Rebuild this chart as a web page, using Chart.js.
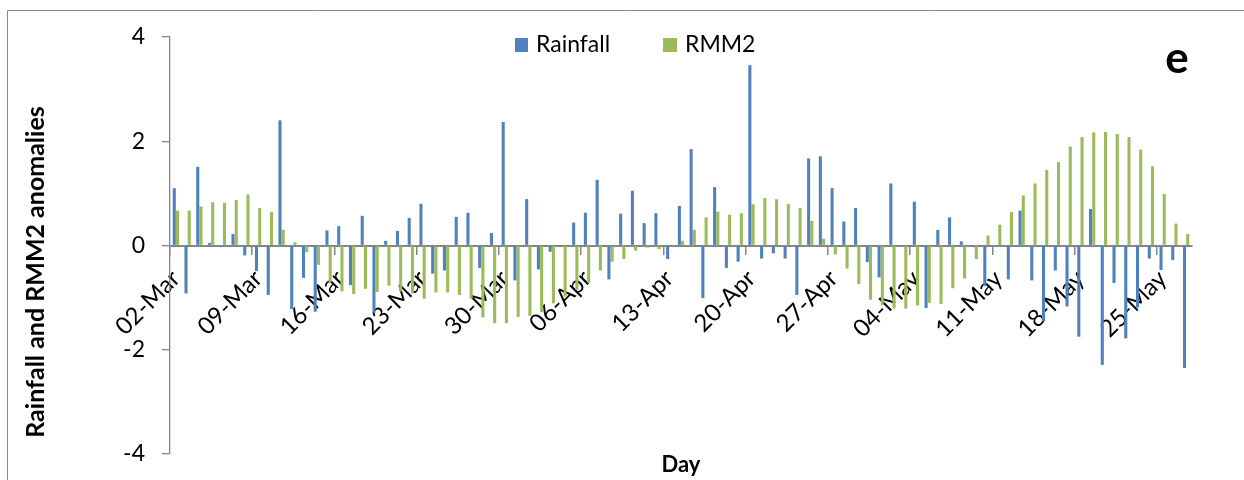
<!DOCTYPE html>
<html>
<head>
<meta charset="utf-8">
<script src="https://cdn.jsdelivr.net/npm/chart.js@4"></script>
<style>
  html, body { margin: 0; padding: 0; background: #fff; }
  #chart { display: block; }
</style>
</head>
<body>
<canvas id="chart" width="1244" height="480"></canvas>
<script>
// days, 02-Mar .. 27-May
const days = [
  '02-Mar','03-Mar','04-Mar','05-Mar','06-Mar','07-Mar','08-Mar','09-Mar','10-Mar','11-Mar',
  '12-Mar','13-Mar','14-Mar','15-Mar','16-Mar','17-Mar','18-Mar','19-Mar','20-Mar','21-Mar',
  '22-Mar','23-Mar','24-Mar','25-Mar','26-Mar','27-Mar','28-Mar','29-Mar','30-Mar','31-Mar',
  '01-Apr','02-Apr','03-Apr','04-Apr','05-Apr','06-Apr','07-Apr','08-Apr','09-Apr','10-Apr',
  '11-Apr','12-Apr','13-Apr','14-Apr','15-Apr','16-Apr','17-Apr','18-Apr','19-Apr','20-Apr',
  '21-Apr','22-Apr','23-Apr','24-Apr','25-Apr','26-Apr','27-Apr','28-Apr','29-Apr','30-Apr',
  '01-May','02-May','03-May','04-May','05-May','06-May','07-May','08-May','09-May','10-May',
  '11-May','12-May','13-May','14-May','15-May','16-May','17-May','18-May','19-May','20-May',
  '21-May','22-May','23-May','24-May','25-May','26-May','27-May'
];

const rainfall = [
  1.10, -0.92, 1.51, 0.05, -0.03, 0.22, -0.19, -0.49, -0.95, 2.40,
  -1.22, -0.62, -1.27, 0.29, 0.37, -0.76, 0.57, -1.29, 0.09, 0.28,
  0.53, 0.80, -0.54, -0.48, 0.55, 0.63, -0.43, 0.24, 2.37, -0.67,
  0.89, -0.46, -0.12, 0.00, 0.44, 0.63, 1.26, -0.65, 0.61, 1.05,
  0.43, 0.62, -0.26, 0.76, 1.85, -1.01, 1.12, -0.43, -0.31, 3.46,
  -0.25, -0.15, -0.25, -0.95, 1.67, 1.71, 1.10, 0.46, 0.72, -0.32,
  -0.61, 1.19, 0.00, 0.84, -1.20, 0.30, 0.54, 0.08, -0.03, -0.78,
  0.00, -0.65, 0.67, -0.67, -1.45, -0.48, -1.17, -1.75, 0.70, -2.29,
  -0.72, -1.78, -1.19, -0.25, -0.47, -0.28, -2.35
];

const rmm2 = [
  0.67, 0.67, 0.75, 0.83, 0.82, 0.87, 0.98, 0.72, 0.64, 0.30,
  0.06, -0.13, -0.37, -0.70, -0.88, -0.93, -0.83, -0.89, -0.77, -0.88,
  -0.92, -1.02, -0.90, -0.90, -0.95, -1.02, -1.38, -1.49, -1.49, -1.37,
  -1.35, -1.28, -1.11, -0.98, -0.85, -0.72, -0.48, -0.31, -0.26, -0.10,
  -0.04, -0.07, 0.01, 0.09, 0.30, 0.54, 0.65, 0.59, 0.62, 0.79,
  0.91, 0.89, 0.80, 0.72, 0.47, 0.13, -0.17, -0.44, -0.74, -1.04,
  -1.14, -1.21, -1.21, -1.15, -1.10, -1.12, -0.82, -0.63, -0.26, 0.19,
  0.40, 0.64, 0.96, 1.19, 1.45, 1.60, 1.90, 2.08, 2.17, 2.18,
  2.14, 2.08, 1.84, 1.52, 0.99, 0.42, 0.22
];

const yTicks = [-4, -2, 0, 2, 4];
const labelEvery = 7;

const BLUE = '#4F81BD', GREEN = '#9BBB59', AXIS = '#868686';
const FONT = 'Lato, "Open Sans", sans-serif';

// titles, panel letter, legend and the thin frame
const extras = {
  id: 'extras',
  beforeDraw(chart){
    const c = chart.ctx;
    c.save();
    c.strokeStyle = '#8a8a8a'; c.lineWidth = 1;
    c.beginPath(); c.moveTo(7.5, 480); c.lineTo(7.5, 10.5); c.lineTo(1244, 10.5); c.stroke();
    c.restore();
  },
  afterDraw(chart){
    const c = chart.ctx;
    c.save();
    c.fillStyle = '#000';
    // y title
    c.font = 'bold 25px ' + FONT;
    c.textAlign = 'center'; c.textBaseline = 'middle';
    c.translate(36, 272); c.rotate(-Math.PI/2);
    c.fillText('Rainfall and RMM2 anomalies', 0, 0);
    c.setTransform(1,0,0,1,0,0);
    // x title
    c.font = 'bold 22px ' + FONT;
    c.fillText('Day', (chart.chartArea.left + chart.chartArea.right)/2, 465);
    // panel letter
    c.font = 'bold 44px ' + FONT;
    c.textBaseline = 'alphabetic';
    c.fillText('e', 1177, 73);
    // legend
    const items = [{x: 515, w: 13}, {x: 663, w: 14}];
    c.font = '23px ' + FONT;
    c.textAlign = 'left'; c.textBaseline = 'middle';
    chart.data.datasets.forEach((ds, i)=>{
      c.fillStyle = ds.backgroundColor;
      c.fillRect(items[i].x, 38, items[i].w, 14);
      c.fillStyle = '#000';
      c.fillText(ds.label, items[i].x + items[i].w + 8, 45);
    });
    c.restore();
  }
};

new Chart(document.getElementById('chart'), {
  type: 'bar',
  data: {
    labels: days,
    datasets: [
      { label: 'Rainfall', data: rainfall, backgroundColor: BLUE, borderWidth: 0 },
      { label: 'RMM2', data: rmm2, backgroundColor: GREEN, borderWidth: 0 }
    ]
  },
  options: {
    responsive: false,
    animation: false,
    events: [],
    categoryPercentage: 0.55,
    barPercentage: 0.95,
    layout: { padding: { left: 0, right: 52, top: 37, bottom: 26 } },
    plugins: { legend: { display: false }, tooltip: { enabled: false } },
    scales: {
      x: {
        type: 'category',
        position: { y: 0 },
        offset: true,
        grid: {
          offset: true,
          drawOnChartArea: false,
          tickLength: 8,
          lineWidth: 1.5,
          color: ctx => (ctx.index % labelEvery === 0 ? AXIS : 'rgba(0,0,0,0)')
        },
        border: { display: true, color: AXIS, width: 2 },
        ticks: {
          autoSkip: false,
          maxRotation: 45, minRotation: 45,
          padding: 11,
          color: '#000',
          font: { family: FONT, size: 24 },
          callback: (v, i) => (i % labelEvery === 0 ? days[i] : '')
        }
      },
      y: {
        min: yTicks[0], max: yTicks[yTicks.length - 1],
        // fixed axis width, and no extra label padding above/below the plot
        afterFit: s => { s.width = 170; s.paddingTop = 0; s.paddingBottom = 0; },
        afterBuildTicks: s => { s.ticks = yTicks.map(v => ({ value: v })); },
        grid: { drawOnChartArea: false, tickLength: 8, color: AXIS, lineWidth: 1.3 },
        border: { display: true, color: AXIS, width: 1.3 },
        ticks: { padding: 17, color: '#000', font: { family: FONT, size: 23 } }
      }
    }
  },
  plugins: [extras]
});
</script>
</body>
</html>
